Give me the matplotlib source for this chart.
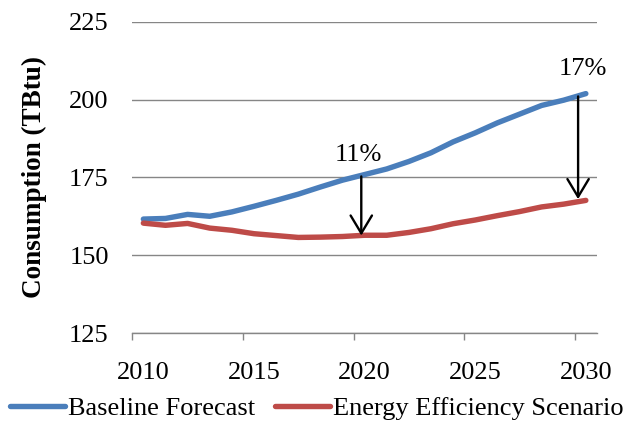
import numpy as np
import matplotlib
matplotlib.use('Agg')
import matplotlib.pyplot as plt

plt.rcParams['font.family'] = ['Liberation Serif', 'DejaVu Serif']

years = list(range(2010, 2031))
baseline = [161.6, 161.8, 163.1, 162.5, 163.9, 165.7, 167.6, 169.6, 171.9, 174.1, 175.9,
            177.7, 180.1, 182.9, 186.4, 189.3, 192.5, 195.3, 198.1, 199.8, 201.9]
efficiency = [160.3, 159.6, 160.2, 158.7, 158.0, 156.9, 156.3, 155.7, 155.8, 156.0, 156.4,
              156.4, 157.3, 158.5, 160.1, 161.3, 162.7, 164.0, 165.5, 166.4, 167.6]

series_labels = ['Baseline Forecast', 'Energy Efficiency Scenario']
xtick_labels = [2010, 2015, 2020, 2025, 2030]
yticks = [125, 150, 175, 200, 225]

# savings arrows: (x, top, bottom, label, label_x, label_y)
savings = [(2019.85, 175.3, 156.3, '11%', 2019.7, 182.2),
           (2029.65, 201.0, 168.0, '17%', 2029.85, 209.8)]

FS = 19

fig = plt.figure(figsize=(6.27, 4.24), dpi=100)
ax = fig.add_axes([0.211, 0.2146, 0.741, 0.7342])

ax.plot(years, baseline, color='#4A7EBB', linewidth=3.9, solid_capstyle='round',
        label=series_labels[0], zorder=3)
ax.plot(years, efficiency, color='#BE4B48', linewidth=3.9, solid_capstyle='round',
        label=series_labels[1], zorder=3)

for x, top, bottom, txt, lx, ly in savings:
    ax.annotate('', xy=(x, bottom), xytext=(x, top),
                arrowprops=dict(arrowstyle='->, head_length=0.4, head_width=0.24',
                                color='black', lw=1.7,
                                mutation_scale=32, shrinkA=0, shrinkB=0),
                zorder=4)
    ax.text(lx, ly, txt, fontsize=FS, ha='center', va='center')

ax.set_xlim(2009.5, 2030.5)
ax.set_ylim(125, 225)
ax.set_yticks(yticks)
ax.tick_params(axis='y', length=0, labelsize=FS, pad=17)

# ticks sit on category boundaries, labels on category centres
ax.set_xticks([y - 0.5 for y in xtick_labels])
ax.set_xticklabels([])
ax.set_xticks(xtick_labels, minor=True)
ax.set_xticklabels([str(y) for y in xtick_labels], minor=True)
ax.tick_params(axis='x', which='major', length=5, width=1, color='#868686', direction='out')
ax.tick_params(axis='x', which='minor', length=0, labelsize=FS, pad=21)

ax.grid(True, axis='y', color='#868686', linewidth=1)
ax.set_axisbelow(True)
for side in ['left', 'top', 'right']:
    ax.spines[side].set_visible(False)
ax.spines['bottom'].set_color('#868686')
ax.spines['bottom'].set_linewidth(1)

ax.set_ylabel('Consumption (TBtu)', fontsize=19.5, fontweight='bold')
ax.yaxis.set_label_coords(-0.184, 0.5)

fig.legend(loc='center', bbox_to_anchor=(0.505, 0.036), ncol=2, frameon=False,
           fontsize=FS, handlelength=2.1, handletextpad=0.1, columnspacing=0.75,
           borderaxespad=0)

plt.savefig('out.png', dpi=100)
